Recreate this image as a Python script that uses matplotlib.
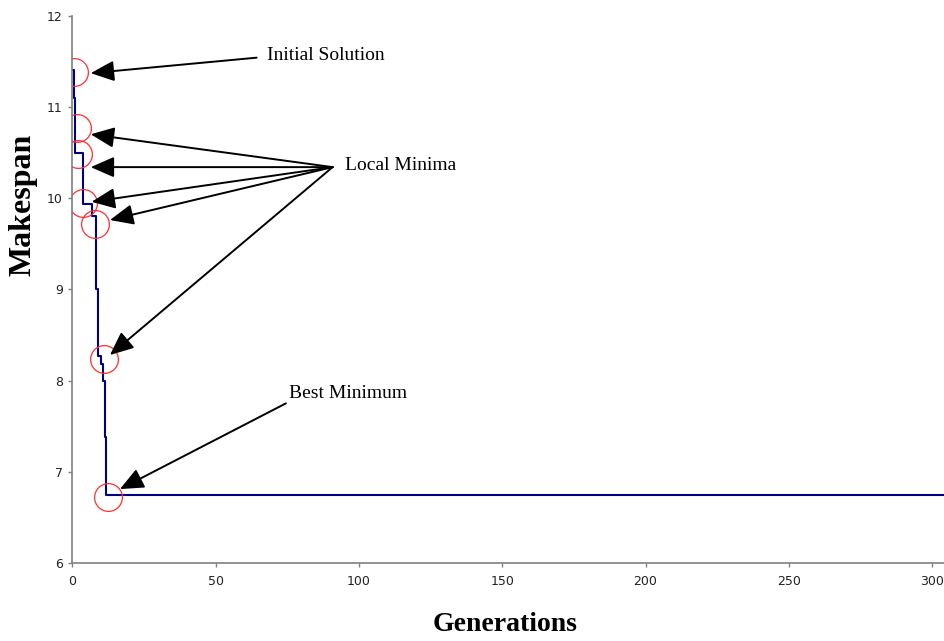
import matplotlib
matplotlib.use('Agg')
import matplotlib.pyplot as plt

# makespan of the best schedule per generation (step curve)
generations = [0, 0.6, 1, 3.7, 6.9, 8.3, 8.9, 10.0, 10.8, 11.4, 11.8, 304.5]
makespan = [11.4, 11.1, 10.5, 9.94, 9.8, 9.0, 8.27, 8.18, 8.0, 7.38, 6.75, 6.75]

# circled points
minima_gen = [0.7, 1.6, 1.8, 3.6, 8.0, 10.9, 12.4]
minima_val = [11.38, 10.77, 10.48, 9.95, 9.72, 8.24, 6.72]

x_ticks = [0, 50, 100, 150, 200, 250, 300]
y_ticks = [6, 7, 8, 9, 10, 11, 12]

fig = plt.figure(figsize=(9.45, 6.41), dpi=100)
ax = fig.add_axes([0.0766, 0.1217, 0.9234, 0.8538])

ax.plot(generations, makespan, drawstyle='steps-post', color='#000080', lw=1.5)
ax.plot(minima_gen, minima_val, 'o', ms=20, mfc='none', mec='#ff3030', mew=0.9)

ax.set_xlim(0, 304.5)
ax.set_ylim(6, 12)
ax.set_xticks(x_ticks)
ax.set_yticks(y_ticks)
for s in ['top', 'right']:
    ax.spines[s].set_visible(False)
for s in ['left', 'bottom']:
    ax.spines[s].set_color('#808080')
    ax.spines[s].set_linewidth(1.2)
ax.tick_params(axis='both', colors='#808080', length=3, width=1, labelsize=9,
               labelcolor='#222222')
ax.tick_params(axis='x', pad=6)
ax.tick_params(axis='y', pad=4)

arrow = dict(arrowstyle='-|>,head_length=0.8,head_width=0.35', mutation_scale=18,
             lw=1.4, color='black', shrinkA=0, shrinkB=0)
serif = 'Liberation Serif'

ax.annotate('', xy=(6.4, 11.37), xytext=(64.3, 11.54), arrowprops=arrow)
ax.text(67.8, 11.56, 'Initial Solution', family=serif, fontsize=14, va='center', ha='left')

local_tips = [(6.4, 10.70), (6.4, 10.34), (6.7, 9.96), (13.1, 9.76), (13.1, 8.28)]
for tip in local_tips:
    ax.annotate('', xy=tip, xytext=(90.8, 10.34), arrowprops=arrow)
ax.text(95.1, 10.36, 'Local Minima', family=serif, fontsize=14, va='center', ha='left')

ax.annotate('', xy=(16.6, 6.81), xytext=(74.5, 7.75), arrowprops=arrow)
ax.text(75.7, 7.86, 'Best Minimum', family=serif, fontsize=14, va='center', ha='left')

fig.text(0.534, 0.025, 'Generations', family=serif, fontsize=20, fontweight='bold',
         ha='center', va='center')
fig.text(0.024, 0.68, 'Makespan', family=serif, fontsize=23, fontweight='bold',
         ha='center', va='center', rotation=90)

fig.savefig('out.png', dpi=100)
